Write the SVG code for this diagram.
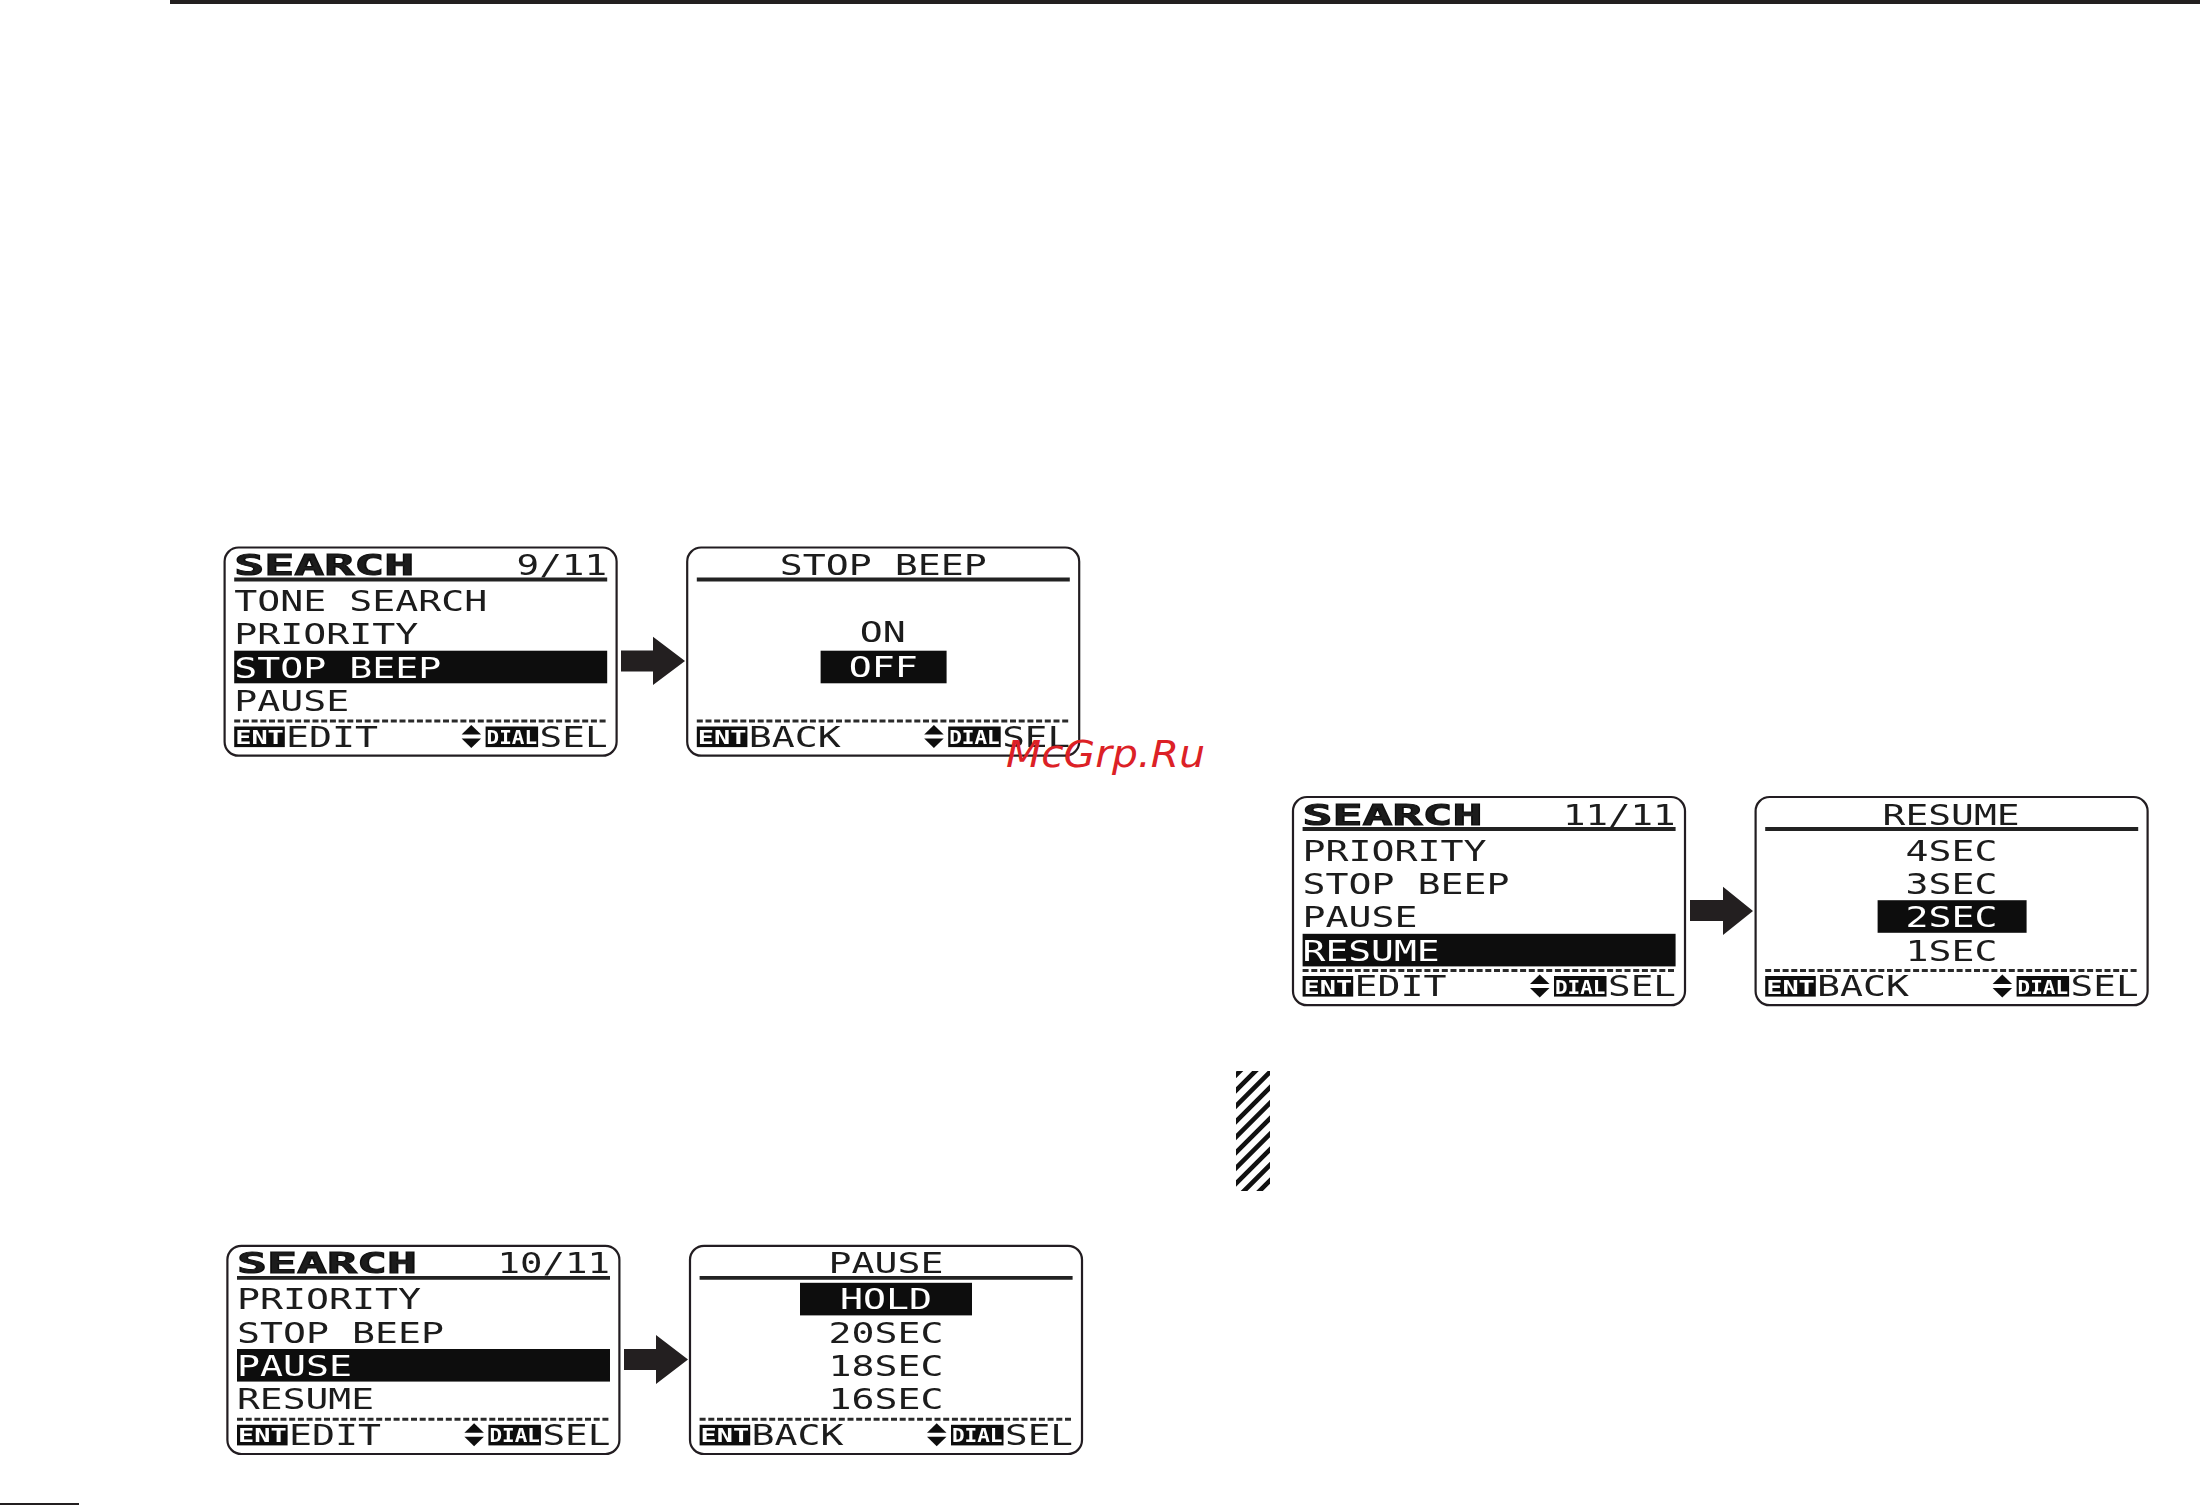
<svg xmlns="http://www.w3.org/2000/svg" width="2200" height="1505" viewBox="0 0 2200 1505">
<style>
.bg{fill:#fff}
.frame{fill:#fff;stroke:#231f20;stroke-width:2.2}
.t{font-family:"DejaVu Sans Mono","Liberation Mono",monospace;font-size:27.5px;fill:#1a1a1a}
.b{font-weight:bold;stroke:#111;stroke-width:1}
.w{fill:#fff}
.k{fill:#111}
.rule{stroke:#222;stroke-width:3.8}
.dash{stroke:#2a2a2a;stroke-width:3;stroke-dasharray:6 2.7;fill:none}
.ic{font-family:"DejaVu Sans Mono","Liberation Mono",monospace;font-size:20px;font-weight:bold;fill:#fff}
.arrow{fill:#231f20}
.scr{filter:url(#soft)}
.mark{font-family:"DejaVu Sans","Liberation Sans",sans-serif;font-style:italic;font-size:36.5px;fill:#dc2126}
</style>
<defs>
<filter id="soft" x="-2%" y="-2%" width="104%" height="104%"><feGaussianBlur stdDeviation="0.55"/></filter>
<g id="foot">
<line class="dash" x1="9.6" y1="173.5" x2="382.6" y2="173.5"/>
<rect class="k" x="9.6" y="179" width="50.6" height="20.6"/>
<text class="ic" x="10.6" y="196.5" textLength="48.6" lengthAdjust="spacingAndGlyphs">ENT</text>
<polygon class="k" points="237,187 246.7,177.5 256.5,187"/>
<polygon class="k" points="237,191 246.7,200.5 256.5,191"/>
<rect class="k" x="261" y="179" width="52.5" height="20.6"/>
<text class="ic" x="262" y="196.5" textLength="50.5" lengthAdjust="spacingAndGlyphs">DIAL</text>
<text class="t" x="315" y="199.2" textLength="68" lengthAdjust="spacingAndGlyphs">SEL</text>
</g>
<rect id="fr" class="frame" x="0" y="0" width="392" height="208.2" rx="14"/>
<clipPath id="hc"><rect x="1236" y="1071" width="34" height="120"/></clipPath>
</defs>
<rect class="bg" width="2200" height="1505"/>
<g id="page-rules">
<rect x="170" y="0" width="2030" height="4" fill="#231f20"/>
<rect x="0" y="1503" width="79" height="2" fill="#231f20"/>
</g>

<g id="screen-stop-beep-menu" class="scr" transform="translate(224.6,547.5)">
<use href="#fr"/>
<text class="t b" x="9.6" y="27.5" textLength="180" lengthAdjust="spacingAndGlyphs">SEARCH</text>
<text class="t" x="292" y="27.5" textLength="90.5" lengthAdjust="spacingAndGlyphs">9/11</text>
<line class="rule" x1="9.6" y1="32" x2="382.6" y2="32"/>
<text class="t" x="9.6" y="63.5" textLength="253" lengthAdjust="spacingAndGlyphs">TONE SEARCH</text>
<text class="t" x="9.6" y="96.9" textLength="184" lengthAdjust="spacingAndGlyphs">PRIORITY</text>
<rect class="k" x="9.6" y="103.2" width="373" height="32.6"/>
<text class="t w" x="9.6" y="130.3" textLength="207" lengthAdjust="spacingAndGlyphs">STOP BEEP</text>
<text class="t" x="9.6" y="163.7" textLength="115" lengthAdjust="spacingAndGlyphs">PAUSE</text>
<use href="#foot"/>
<text class="t" x="61.5" y="199.2" textLength="92" lengthAdjust="spacingAndGlyphs">EDIT</text>
</g>
<g id="screen-stop-beep-value" class="scr" transform="translate(687.2,547.5)">
<use href="#fr"/>
<text class="t" x="92.5" y="27.5" textLength="207" lengthAdjust="spacingAndGlyphs">STOP BEEP</text>
<line class="rule" x1="9.6" y1="32" x2="382.6" y2="32"/>
<text class="t" x="172.5" y="94.5" textLength="46" lengthAdjust="spacingAndGlyphs">ON</text>
<rect class="k" x="133.4" y="103.2" width="126" height="32.6"/>
<text class="t w" x="161.5" y="129.5" textLength="69" lengthAdjust="spacingAndGlyphs">OFF</text>
<use href="#foot"/>
<text class="t" x="61.5" y="199.2" textLength="92" lengthAdjust="spacingAndGlyphs">BACK</text>
</g>

<g id="screen-pause-menu" class="scr" transform="translate(227.4,1245.8)">
<use href="#fr"/>
<text class="t b" x="9.6" y="27.5" textLength="180" lengthAdjust="spacingAndGlyphs">SEARCH</text>
<text class="t" x="270" y="27.5" textLength="112.5" lengthAdjust="spacingAndGlyphs">10/11</text>
<line class="rule" x1="9.6" y1="32" x2="382.6" y2="32"/>
<text class="t" x="9.6" y="63.5" textLength="184" lengthAdjust="spacingAndGlyphs">PRIORITY</text>
<text class="t" x="9.6" y="96.9" textLength="207" lengthAdjust="spacingAndGlyphs">STOP BEEP</text>
<rect class="k" x="9.6" y="103.2" width="373" height="32.6"/>
<text class="t w" x="9.6" y="130.3" textLength="115" lengthAdjust="spacingAndGlyphs">PAUSE</text>
<text class="t" x="9.6" y="163.7" textLength="137" lengthAdjust="spacingAndGlyphs">RESUME</text>
<use href="#foot"/>
<text class="t" x="61.5" y="199.2" textLength="92" lengthAdjust="spacingAndGlyphs">EDIT</text>
</g>
<g id="screen-pause-value" class="scr" transform="translate(690,1245.8)">
<use href="#fr"/>
<text class="t" x="138.5" y="27.5" textLength="115" lengthAdjust="spacingAndGlyphs">PAUSE</text>
<line class="rule" x1="9.6" y1="32" x2="382.6" y2="32"/>
<rect class="k" x="110" y="37" width="172" height="32.6"/>
<text class="t w" x="150" y="63.5" textLength="92" lengthAdjust="spacingAndGlyphs">HOLD</text>
<text class="t" x="138.5" y="96.9" textLength="115" lengthAdjust="spacingAndGlyphs">20SEC</text>
<text class="t" x="138.5" y="130.3" textLength="115" lengthAdjust="spacingAndGlyphs">18SEC</text>
<text class="t" x="138.5" y="163.7" textLength="115" lengthAdjust="spacingAndGlyphs">16SEC</text>
<use href="#foot"/>
<text class="t" x="61.5" y="199.2" textLength="92" lengthAdjust="spacingAndGlyphs">BACK</text>
</g>

<g id="screen-resume-menu" class="scr" transform="translate(1293,797)">
<use href="#fr"/>
<text class="t b" x="9.6" y="27.5" textLength="180" lengthAdjust="spacingAndGlyphs">SEARCH</text>
<text class="t" x="270" y="27.5" textLength="112.5" lengthAdjust="spacingAndGlyphs">11/11</text>
<line class="rule" x1="9.6" y1="32" x2="382.6" y2="32"/>
<text class="t" x="9.6" y="63.5" textLength="184" lengthAdjust="spacingAndGlyphs">PRIORITY</text>
<text class="t" x="9.6" y="96.9" textLength="207" lengthAdjust="spacingAndGlyphs">STOP BEEP</text>
<text class="t" x="9.6" y="130.3" textLength="115" lengthAdjust="spacingAndGlyphs">PAUSE</text>
<rect class="k" x="9.6" y="136.8" width="373" height="32.6"/>
<text class="t w" x="9.6" y="163.7" textLength="137" lengthAdjust="spacingAndGlyphs">RESUME</text>
<use href="#foot"/>
<text class="t" x="61.5" y="199.2" textLength="92" lengthAdjust="spacingAndGlyphs">EDIT</text>
</g>
<g id="screen-resume-value" class="scr" transform="translate(1755.6,797)">
<use href="#fr"/>
<text class="t" x="127" y="27.5" textLength="137" lengthAdjust="spacingAndGlyphs">RESUME</text>
<line class="rule" x1="9.6" y1="32" x2="382.6" y2="32"/>
<text class="t" x="150" y="63.5" textLength="92" lengthAdjust="spacingAndGlyphs">4SEC</text>
<text class="t" x="150" y="96.9" textLength="92" lengthAdjust="spacingAndGlyphs">3SEC</text>
<rect class="k" x="122" y="103.2" width="149" height="32.6"/>
<text class="t w" x="150" y="130.3" textLength="92" lengthAdjust="spacingAndGlyphs">2SEC</text>
<text class="t" x="150" y="163.7" textLength="92" lengthAdjust="spacingAndGlyphs">1SEC</text>
<use href="#foot"/>
<text class="t" x="61.5" y="199.2" textLength="92" lengthAdjust="spacingAndGlyphs">BACK</text>
</g>

<g id="connectors">
<polygon class="arrow" points="621,650.5 653,650.5 653,636.7 685,661 653,685 653,671.5 621,671.5"/>
<polygon class="arrow" points="624,1349 656,1349 656,1335 688,1359.5 656,1384 656,1370 624,1370"/>
<polygon class="arrow" points="1690,900 1723,900 1723,886.7 1753,911 1723,935 1723,921 1690,921"/>
</g>

<g id="hatch" clip-path="url(#hc)">
<path stroke="#111" stroke-width="4.7" fill="none" d="M1226 1069.5L1280 1015.5M1226 1085L1280 1031M1226 1100.5L1280 1046.5M1226 1116L1280 1062M1226 1131.5L1280 1077.5M1226 1147L1280 1093M1226 1162.5L1280 1108.5M1226 1178L1280 1124M1226 1193.5L1280 1139.5M1226 1209L1280 1155M1226 1224.5L1280 1170.5M1226 1240L1280 1186"/>
</g>

<text class="mark" x="1006" y="767" textLength="199" lengthAdjust="spacingAndGlyphs">McGrp.Ru</text>
</svg>
